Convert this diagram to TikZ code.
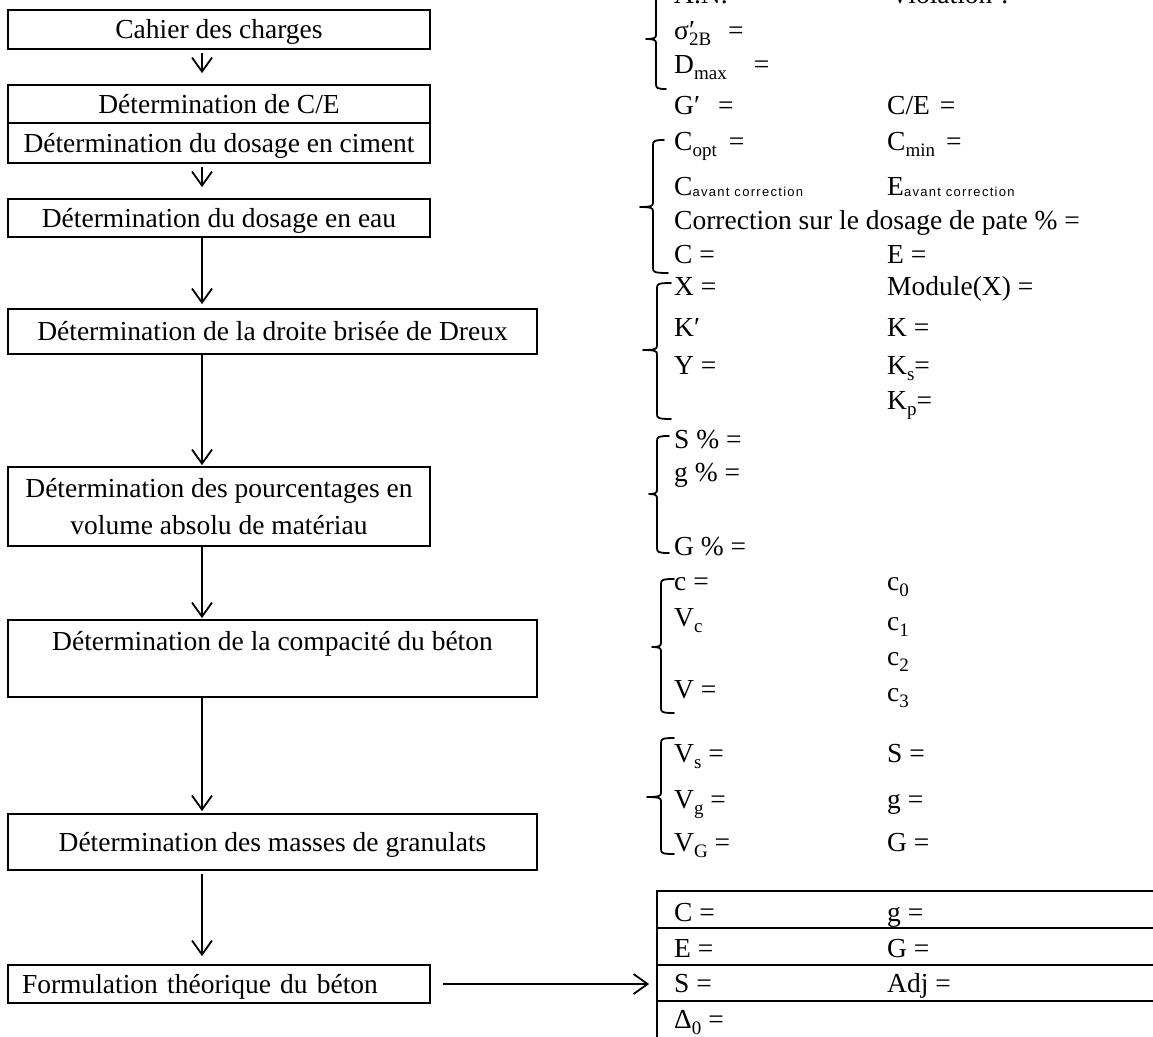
\documentclass[tikz,border=0pt]{standalone}
\usepackage{fontspec}
\setmainfont{Liberation Serif}
\newfontfamily\tinyfont[LetterSpace=10]{Liberation Sans}
\usetikzlibrary{arrows.meta}
\newcommand\sbx[1]{\raisebox{-6pt}{\fontsize{19}{19}\selectfont #1}}
\newcommand\sbt[1]{\raisebox{-1pt}{\tinyfont\fontsize{13}{13}\selectfont #1}}
\newcommand\lbrk[7]{\draw[brk] ({#1+#5},#2) .. controls ({#1+1},#2) and (#1,{#2+1}) .. (#1,{#2+5}) -- (#1,{#3-4}) .. controls (#1,{#3-1}) and ({#1-2},#3) .. ({#1-#7},#3) .. controls ({#1-2},#3) and (#1,{#3+1}) .. (#1,{#3+4}) -- (#1,{#4-5}) .. controls (#1,{#4-1}) and ({#1+1},#4) .. ({#1+#6},#4);}
\begin{document}
\begin{tikzpicture}[x=1pt,y=-1pt,
  font=\fontsize{27.5}{37}\selectfont,
  box/.style={draw, line width=1.8pt, inner sep=0pt, text height=18.2pt, text depth=0pt},
  arr/.style={-{Straight Barb[length=14pt,width=20pt]}, line width=1.8pt},
  entry/.style={anchor=base west, inner sep=0pt},
  brk/.style={line width=1.8pt, line cap=round, line join=round},
  rowbox/.style={draw, line width=1.8pt, minimum width=520pt, inner sep=0pt}]
\useasboundingbox (0,0) rectangle (1153,1036);
\fill[white] (0,0) rectangle (1153,1036);
\clip (0,0) rectangle (1153,1036);

% left column boxes
\node[box, minimum width=422pt, minimum height=39pt] (b1) at (219,29.5) {Cahier des charges};
\node[box, minimum width=422pt, minimum height=38pt] (b2) at (219,104) {Détermination de C/E};
\node[box, minimum width=422pt, minimum height=40pt] (b3) at (219,143) {Détermination du dosage en ciment};
\node[box, minimum width=422pt, minimum height=38pt] (b4) at (219,218) {Détermination du dosage en eau};
\node[box, minimum width=529pt, minimum height=45pt] (b5) at (272.5,331.5) {Détermination de la droite brisée de Dreux};
\node[box, minimum width=422pt, minimum height=79pt, text depth=37pt] (b6) at (219,506.5) {\parbox[t]{410pt}{\centering Détermination des pourcentages en\\volume absolu de matériau}};
\node[box, minimum width=529pt, minimum height=77pt, text depth=35.2pt] (b7) at (272.5,658.5) {Détermination de la compacité du béton};
\node[box, minimum width=529pt, minimum height=56pt] (b8) at (272.5,842) {Détermination des masses de granulats};
\node[box, minimum width=422pt, minimum height=38pt, text width=394pt, align=left, inner xsep=14pt] (b9) at (219,984) {Formulation théorique du béton};

% result table
\node[rowbox, minimum height=37pt] (r1) at (917,909.5) {};
\node[rowbox, minimum height=37pt] (r2) at (917,946.5) {};
\node[rowbox, minimum height=36pt] (r3) at (917,983) {};
\node[rowbox, minimum height=44pt] (r4) at (917,1023) {};

% arrows
\coordinate (ax) at (202,0);
\draw[arr, shorten <=3pt, shorten >=11pt] (b1.south -| ax) -- (b2.north -| ax);
\draw[arr, shorten <=3pt, shorten >=11pt] (b3.south -| ax) -- (b4.north -| ax);
\draw[arr, shorten >=4pt] (b4.south -| ax) -- (b5.north -| ax);
\draw[arr, shorten >=1pt] (b5.south -| ax) -- (b6.north -| ax);
\draw[arr, shorten >=1pt] (b6.south -| ax) -- (b7.north -| ax);
\draw[arr, shorten >=2pt] (b7.south -| ax) -- (b8.north -| ax);
\draw[arr, shorten <=3pt, shorten >=8pt] (b8.south -| ax) -- (b9.north -| ax);
\draw[arr, shorten <=12pt, shorten >=7pt] (b9.east) -- (b9.east -| r3.west);

% braces
\lbrk{656}{-11}{39}{89}{10}{10}{10}
\lbrk{653}{140}{207}{273}{11}{15}{13}
\lbrk{657}{283}{350}{419}{14}{14}{14}
\lbrk{657}{436}{494}{553}{12}{12}{8}
\lbrk{661}{579}{647}{713}{13}{13}{9}
\lbrk{661}{738}{797}{854}{13}{13}{14}

% group 1
\node[entry] (e1a) at (674,3) {A.N.};
\node[entry] (e1b) at (890,3) {Violation ?};
\node[entry] (e2a) at (674,39) {σ\rlap{′}\sbx{2B}\hspace{17pt}=};
\node[entry] (e3a) at (674,73) {D\sbx{max}\hspace{27pt}=};
\node[entry] (e4a) at (674,114) {G′\hspace{18pt}=};
\node[entry] (e4b) at (887,114) {C/E\hspace{10pt}=};
% group 2
\node[entry] (e5a) at (674,150) {C\sbx{opt}\hspace{12pt}=};
\node[entry] (e5b) at (887,150) {C\sbx{min}\hspace{11pt}=};
\node[entry] (e6a) at (674,195) {C\sbt{avant correction}};
\node[entry] (e6b) at (887,195) {E\sbt{avant correction}};
\node[entry] (e7a) at (674,229) {Correction sur le dosage de pate \% =};
\node[entry] (e8a) at (674,263) {C =};
\node[entry] (e8b) at (887,263) {E =};
% group 3
\node[entry] (e9a) at (674,295) {X =};
\node[entry] (e9b) at (887,295) {Module(X) =};
\node[entry] (e10a) at (674,336) {K′};
\node[entry] (e10b) at (887,336) {K =};
\node[entry] (e11a) at (674,374) {Y =};
\node[entry] (e11b) at (887,374) {K\sbx{s}=};
\node[entry] (e12b) at (887,409) {K\sbx{p}=};
% group 4
\node[entry] (e13a) at (674,448) {S \% =};
\node[entry] (e14a) at (674,481) {g \% =};
\node[entry] (e15a) at (674,555) {G \% =};
% group 5
\node[entry] (e16a) at (674,590) {c =};
\node[entry] (e16b) at (887,590) {c\sbx{0}};
\node[entry] (e17a) at (674,626) {V\sbx{c}};
\node[entry] (e17b) at (887,630) {c\sbx{1}};
\node[entry] (e18b) at (887,665) {c\sbx{2}};
\node[entry] (e19a) at (674,698) {V =};
\node[entry] (e19b) at (887,701) {c\sbx{3}};
% group 6
\node[entry] (e20a) at (674,762) {V\sbx{s} =};
\node[entry] (e20b) at (887,762) {S =};
\node[entry] (e21a) at (674,808) {V\sbx{g} =};
\node[entry] (e21b) at (887,808) {g =};
\node[entry] (e22a) at (674,851) {V\sbx{G} =};
\node[entry] (e22b) at (887,851) {G =};
% table
\node[entry] (e23a) at (674,921) {C =};
\node[entry] (e23b) at (887,921) {g =};
\node[entry] (e24a) at (674,957) {E =};
\node[entry] (e24b) at (887,957) {G =};
\node[entry] (e25a) at (674,992) {S =};
\node[entry] (e25b) at (887,992) {Adj =};
\node[entry] (e26a) at (674,1028) {Δ\sbx{0} =};
\end{tikzpicture}
\end{document}
